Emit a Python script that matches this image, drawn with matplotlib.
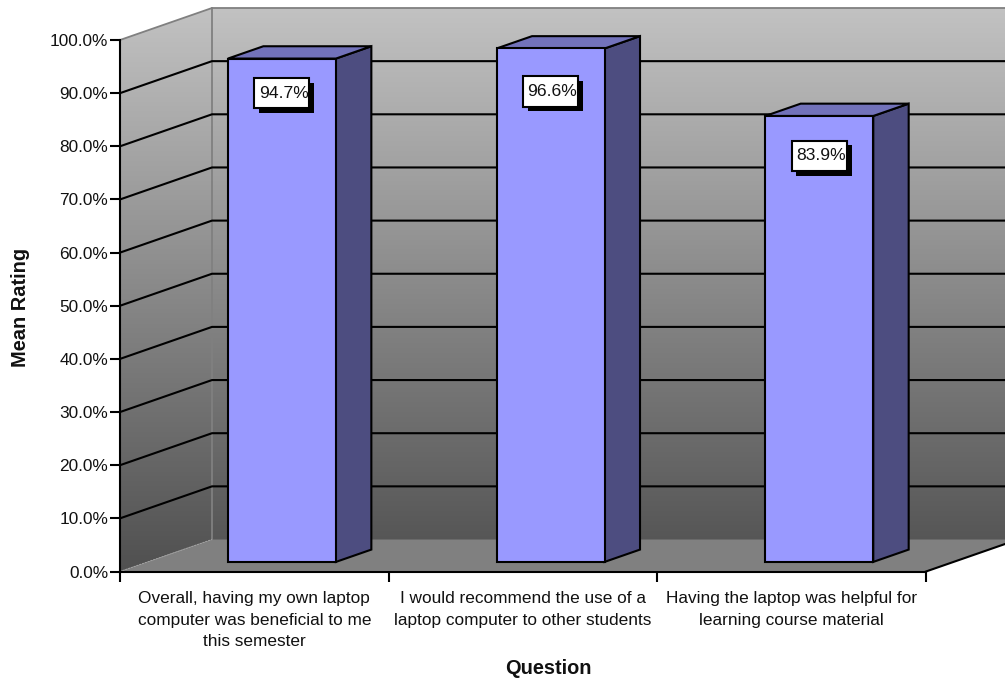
import numpy as np
import matplotlib
matplotlib.use('Agg')
import matplotlib.pyplot as plt
import matplotlib.patheffects as pe
from matplotlib.colors import LinearSegmentedColormap
from matplotlib.patches import Polygon, Rectangle

# Data
questions = ['Overall, having my own laptop\ncomputer was beneficial to me\nthis semester',
             'I would recommend the use of a\nlaptop computer to other students',
             'Having the laptop was helpful for\nlearning course material']
ratings = [94.7, 96.6, 83.9]
yTicks = [0, 10, 20, 30, 40, 50, 60, 70, 80, 90, 100]

# Depth of the 3D box, in data units
depthX = 0.3424
depthY = 6.02
barStart = 0.30  # how far into the depth the bar front sits
barDepth = 0.385
barWidth = 0.402
labelDrop = [6.5, 8.1, 7.5]  # label centre below bar top
boxW = 0.205  # label box size
boxH = 5.7
lineW = 1.5

plt.rcParams['font.family'] = ['Liberation Sans', 'DejaVu Sans']
fig = plt.figure(figsize=(10.05, 6.79), dpi=100)
ax = fig.add_axes([120 / 1005, (679 - 571.5) / 679, 806 / 1005, 531.5 / 679])
ax.patch.set_visible(False)

nCat = len(questions)
wallCmap = LinearSegmentedColormap.from_list('wall', ['#c2c2c2', '#505050'])
grad = np.linspace(0, 1, 256).reshape(-1, 1)


def wall(points):
    # Gradient filled polygon, allowed to run outside the axes
    poly = Polygon(points, closed=True, transform=ax.transData, facecolor='none', edgecolor='none')
    ax.add_patch(poly)
    im = ax.imshow(grad, cmap=wallCmap, aspect='auto', zorder=1,
                   extent=(0, nCat + depthX, 0, 100 + depthY))
    im.set_clip_box(fig.bbox)
    im.set_clip_path(poly)
    return im


# Back wall and side wall
wall([(depthX, depthY), (nCat + depthX, depthY), (nCat + depthX, 100 + depthY), (depthX, 100 + depthY)])
wall([(0, 0), (depthX, depthY), (depthX, 100 + depthY), (0, 100)])
ax.plot([0, depthX, nCat + depthX], [100, 100 + depthY, 100 + depthY], color='#808080', lw=1.3,
        clip_on=False, zorder=2)
ax.plot([depthX, depthX], [depthY, 100 + depthY], color='#808080', lw=1.3, clip_on=False, zorder=2)

# Gridlines
for t in yTicks[1:-1]:
    ax.plot([0, depthX, nCat + depthX], [t, t + depthY, t + depthY], color='black', lw=lineW,
            clip_on=False, zorder=3)

# Floor
ax.fill([0, depthX, nCat + depthX, nCat], [0, depthY, depthY, 0], color='#808080', lw=0,
        clip_on=False, zorder=4)
ax.plot([0, depthX], [0, depthY], color='#a0a0a0', lw=0.7, ls=(0, (2, 1)), clip_on=False, zorder=4)
ax.plot([nCat, nCat + depthX], [0, depthY], color='black', lw=lineW, clip_on=False, zorder=4)

# Bars
for i, val in enumerate(ratings):
    left = i + 0.5 - barWidth / 2 + barStart * depthX
    right = left + barWidth
    base = barStart * depthY
    top = base + val
    dx = barDepth * depthX
    dy = barDepth * depthY
    ax.fill([right, right + dx, right + dx, right], [base, base + dy, top + dy, top],
            facecolor='#4d4d80', edgecolor='black', lw=lineW, clip_on=False, zorder=5)
    ax.fill([left, left + dx, right + dx, right], [top, top + dy, top + dy, top],
            facecolor='#7272ba', edgecolor='black', lw=lineW, clip_on=False, zorder=5)
    ax.bar(left, val, barWidth, bottom=base, align='edge', facecolor='#9999ff', edgecolor='black',
           lw=lineW, clip_on=False, zorder=6)
    mid = left + barWidth / 2
    box = Rectangle((mid - boxW / 2, top - labelDrop[i] - boxH / 2), boxW, boxH, facecolor='white',
                    edgecolor='black', lw=lineW, zorder=7, clip_on=False)
    box.set_path_effects([pe.SimplePatchShadow(offset=(3.4, -3.4), shadow_rgbFace='black', alpha=1.0),
                          pe.Normal()])
    ax.add_patch(box)
    ax.text(mid + 0.006, top - labelDrop[i], '%.1f%%' % val, ha='center', va='center',
            fontsize=12.6, color='#111111', zorder=8)

# Axes and ticks
ax.set_xlim(0, nCat)
ax.set_ylim(0, 100)
for side in ['top', 'right']:
    ax.spines[side].set_visible(False)
for side in ['left', 'bottom']:
    ax.spines[side].set_linewidth(lineW)
    ax.spines[side].set_zorder(8)
ax.set_yticks(yTicks)
ax.set_yticklabels(['%.1f%%' % t for t in yTicks], fontsize=12.4, color='#111111')
ax.tick_params(axis='y', length=7.5, width=lineW, pad=1)
ax.set_xticks(range(nCat + 1))
ax.set_xticklabels([])
ax.tick_params(axis='x', which='major', length=7.5, width=lineW)
ax.set_xticks(np.arange(nCat) + 0.5, minor=True)
ax.set_xticklabels(questions, minor=True, fontsize=12.4, color='#111111', linespacing=1.55)
ax.tick_params(axis='x', which='minor', length=0, pad=14)

fig.text(548 / 1005, 1 - 668 / 679, 'Question', ha='center', va='center', fontsize=14.4,
         fontweight='bold', color='#111111')
fig.text(20 / 1005, 1 - 307 / 679, 'Mean Rating', ha='center', va='center', rotation=90,
         fontsize=14.4, fontweight='bold', color='#111111')

fig.savefig('out.png', dpi=100)
